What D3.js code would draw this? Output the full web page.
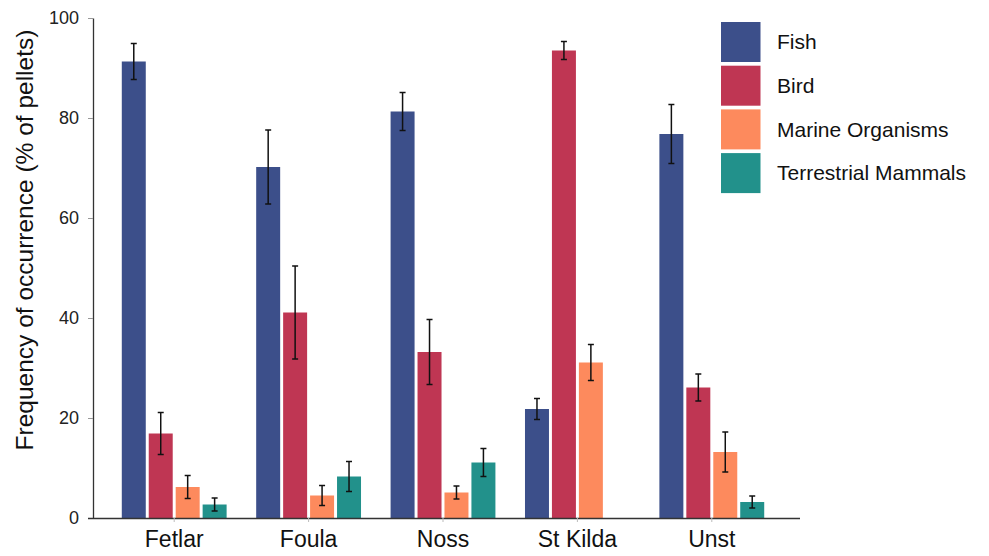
<!DOCTYPE html>
<html>
<head>
<meta charset="utf-8">
<script src="https://cdn.jsdelivr.net/npm/d3@7"></script>
<style>
  html, body { margin: 0; padding: 0; background: #fff; }
  svg { display: block; font-family: "Liberation Sans", Arial, sans-serif; }
</style>
</head>
<body>
<svg id="chart" width="989" height="556"></svg>
<script>
// ---- data ----
const categories = ["Fetlar", "Foula", "Noss", "St Kilda", "Unst"];
const series = ["Fish", "Bird", "Marine Organisms", "Terrestrial Mammals"];
const fishValues        = [91.3, 70.2, 81.3, 21.8, 76.8];
const birdValues        = [16.9, 41.1, 33.2, 93.5, 26.1];
const marineValues      = [6.2, 4.5, 5.1, 31.1, 13.2];
const terrestrialValues = [2.7, 8.3, 11.1, null, 3.2];
const fishErr        = [3.6, 7.4, 3.8, 2.1, 5.9];
const birdErr        = [4.2, 9.3, 6.5, 1.8, 2.7];
const marineErr      = [2.3, 2.0, 1.3, 3.6, 4.0];
const terrestrialErr = [1.3, 3.0, 2.8, null, 1.2];
const yTicks = [0, 20, 40, 60, 80, 100];
const colors = ["#3c4f8a", "#bf3653", "#fd8a5d", "#22918b"];

const valuesBySeries = [fishValues, birdValues, marineValues, terrestrialValues];
const errBySeries = [fishErr, birdErr, marineErr, terrestrialErr];

const rows = [];
categories.forEach((c, i) => {
  series.forEach((s, j) => {
    const v = valuesBySeries[j][i];
    if (v !== null) rows.push({ cat: c, ser: s, v: v, e: errBySeries[j][i], color: colors[j] });
  });
});

// ---- layout ----
const svg = d3.select("#chart");
const axisX0 = 93, axisX1 = 800;
const y = d3.scaleLinear().domain([0, 100]).range([518, 18]);
const x0 = d3.scaleBand().domain(categories).range([107, 779]).paddingInner(0.22).paddingOuter(0.11);
const x1 = d3.scaleBand().domain(series).range([0, x0.bandwidth()]).paddingInner(0.11);
const color = d3.scaleOrdinal().domain(series).range(colors);

// bars
svg.append("g").selectAll("rect").data(rows).join("rect")
  .attr("x", d => x0(d.cat) + x1(d.ser))
  .attr("y", d => y(d.v))
  .attr("width", x1.bandwidth())
  .attr("height", d => y(0) - y(d.v))
  .attr("fill", d => color(d.ser));

// error bars
const eg = svg.append("g").attr("stroke", "#111").attr("stroke-width", 1.5);
rows.filter(d => d.e !== null).forEach(d => {
  const cx = x0(d.cat) + x1(d.ser) + x1.bandwidth() / 2;
  const yt = y(d.v + d.e), yb = y(d.v - d.e);
  eg.append("line").attr("x1", cx).attr("x2", cx).attr("y1", yt).attr("y2", yb);
  eg.append("line").attr("x1", cx - 3).attr("x2", cx + 3).attr("y1", yt).attr("y2", yt);
  eg.append("line").attr("x1", cx - 3).attr("x2", cx + 3).attr("y1", yb).attr("y2", yb);
});

// y axis
const yAxis = svg.append("g").attr("transform", `translate(${axisX0},0)`)
  .call(d3.axisLeft(y).tickValues(yTicks).tickSize(5).tickPadding(9).tickSizeOuter(0));
yAxis.select(".domain").attr("stroke", "#333").attr("stroke-width", 1.3);
yAxis.selectAll(".tick line").attr("stroke", "#999");
yAxis.selectAll(".tick text").attr("font-size", 18).attr("fill", "#222")
  .attr("font-family", "'Liberation Sans', Arial, sans-serif");

// x axis
const xAxis = svg.append("g").attr("transform", `translate(0,${y(0)})`)
  .call(d3.axisBottom(x0).tickSize(4).tickPadding(9).tickSizeOuter(0));
xAxis.select(".domain").attr("d", `M${axisX0 - 5},0.5H${axisX1}`).attr("stroke", "#333").attr("stroke-width", 1.6);
xAxis.selectAll(".tick line").attr("stroke", "#bbb");
xAxis.selectAll(".tick text").attr("font-size", 23).attr("fill", "#111")
  .attr("font-family", "'Liberation Sans', Arial, sans-serif");

// y label
svg.append("text")
  .attr("transform", `translate(33,240) rotate(-90)`)
  .attr("text-anchor", "middle")
  .attr("font-size", 24.5)
  .attr("fill", "#111")
  .text("Frequency of occurrence (% of pellets)");

// legend
const legend = svg.append("g");
const lg = legend.selectAll("g").data(series).join("g")
  .attr("transform", (d, i) => `translate(721,${22 + i * 43.7})`);
lg.append("rect").attr("width", 39.5).attr("height", 40).attr("fill", d => color(d));
lg.append("text").attr("x", 56).attr("y", 20).attr("dy", "0.35em")
  .attr("font-size", 21).attr("fill", "#111").text(d => d);
</script>
</body>
</html>
